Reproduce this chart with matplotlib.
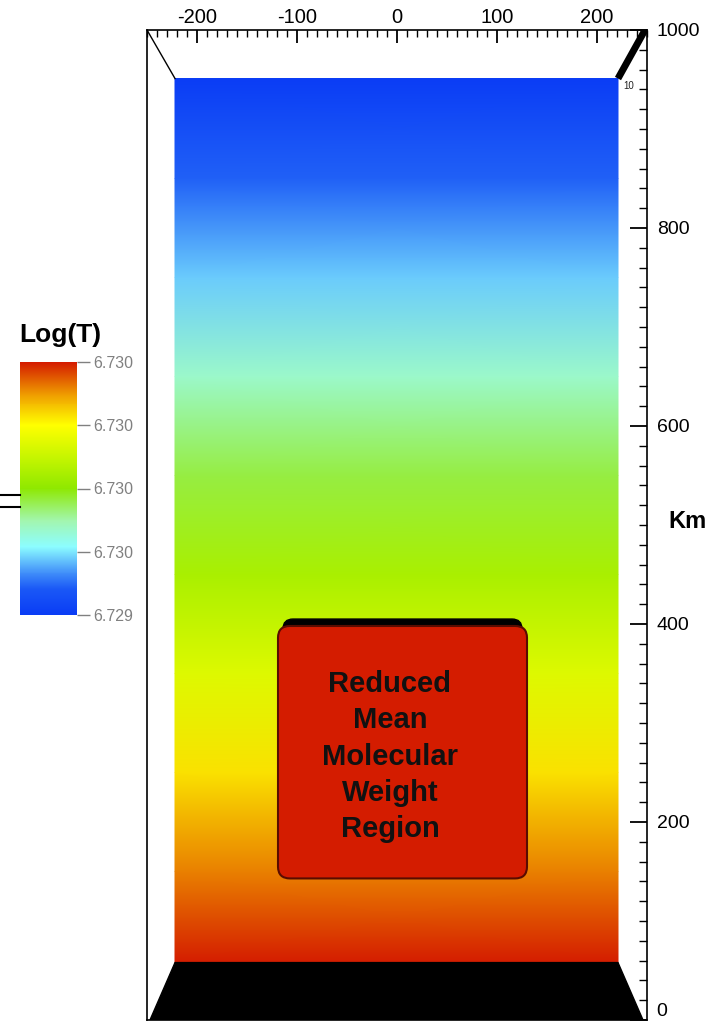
import numpy as np
import matplotlib
matplotlib.use("Agg")
import matplotlib.pyplot as plt
from matplotlib.colors import LinearSegmentedColormap, Normalize
from matplotlib.cm import ScalarMappable
from matplotlib.patches import FancyBboxPatch, Polygon
from matplotlib.ticker import MultipleLocator, FormatStrFormatter
from matplotlib.lines import Line2D

plt.rcParams['font.family'] = ['Liberation Sans', 'DejaVu Sans']
plt.rcParams['axes.unicode_minus'] = False

# temperature profile of the slab (height in km, Log(T))
heights = [58, 150, 250, 350, 450, 550, 650, 750, 850, 951]
log_t = [6.73020, 6.73012, 6.73003, 6.72994, 6.72985,
         6.72976, 6.72967, 6.72958, 6.72949, 6.72940]
slab_x = [-222, 221]
floor_top_x = [-222, 221]
floor_bottom_x = [-247, 246]

region_x = [-119, 130]
region_y = [143, 398]
region_label = ["Reduced", "Mean", "Molecular", "Weight", "Region"]

x_ticks = [-200, -100, 0, 100, 200]
km_ticks = [0, 200, 400, 600, 800, 1000]
cbar_ticks = [6.7294, 6.7296, 6.7298, 6.7300, 6.7302]

cmap = LinearSegmentedColormap.from_list("rainbow_pv", [
    (0.00, "#0a3cf5"), (0.10, "#1a58f6"), (0.18, "#4a9cfa"),
    (0.27, "#8cfdff"), (0.37, "#a2f6b0"), (0.50, "#8ee800"),
    (0.62, "#c4f500"), (0.75, "#ffff00"), (0.87, "#f0a000"),
    (1.00, "#d41c00")])
norm = Normalize(vmin=6.7294, vmax=6.7302)

fig = plt.figure(figsize=(7.26, 10.24), dpi=100)
ax = fig.add_axes([147 / 726, 4 / 1024, 500 / 726, 990 / 1024])
ax.set_xlim(-250, 250)
ax.set_ylim(0, 1000)

# coloured slab
xx, yy = np.meshgrid(slab_x, heights)
cc = np.repeat(np.array(log_t)[:, None], 2, axis=1)
ax.pcolormesh(xx, yy, cc, shading='gouraud', cmap=cmap, norm=norm, zorder=1)

# black floor
floor = Polygon([(floor_bottom_x[0], 0), (floor_bottom_x[1], 0),
                 (floor_top_x[1], heights[0]), (floor_top_x[0], heights[0])],
                closed=True, facecolor="black", edgecolor="black", zorder=2)
ax.add_patch(floor)

# perspective edges
ax.plot([-250, floor_top_x[0]], [1000, heights[-1]], color="black", lw=1, zorder=3)
ax.plot([248, floor_top_x[1]], [1000, heights[-1]], color="black", lw=5,
        solid_capstyle="butt", zorder=3)
ax.text(226, 940, "10", fontsize=7, color="#222222", zorder=3)

# reduced mean molecular weight region
w = region_x[1] - region_x[0]
h = region_y[1] - region_y[0]
shadow = FancyBboxPatch((region_x[0] + 5, region_y[0] + 7), w - 10, h,
                        boxstyle="round,pad=0,rounding_size=10",
                        facecolor="black", edgecolor="black", zorder=4)
ax.add_patch(shadow)
box = FancyBboxPatch((region_x[0], region_y[0]), w, h,
                     boxstyle="round,pad=0,rounding_size=12",
                     facecolor="#d41c00", edgecolor="#5a0c00", lw=1.5, zorder=5)
ax.add_patch(box)
ax.text(-7, 266, "\n".join(region_label), ha="center", va="center",
        fontsize=21, fontweight="bold", color="#111111",
        linespacing=1.38, zorder=6)

# axes styling
ax.xaxis.set_ticks_position("top")
ax.xaxis.set_label_position("top")
ax.set_xticks(x_ticks)
ax.xaxis.set_minor_locator(MultipleLocator(10))
ax.yaxis.set_ticks_position("right")
ax.set_yticks(km_ticks)
ax.yaxis.set_minor_locator(MultipleLocator(20))
ax.tick_params(axis="x", which="major", direction="in", length=9, width=1.3,
               labelsize=14.5, pad=2)
ax.tick_params(axis="x", which="minor", direction="in", length=5, width=1)
ax.tick_params(axis="y", which="major", direction="in", length=12, width=1.3,
               labelsize=14, pad=7)
ax.tick_params(axis="y", which="minor", direction="in", length=6, width=1)
for side in ["top", "right", "left", "bottom"]:
    ax.spines[side].set_linewidth(1.2)
ax.set_facecolor("white")
# keep the "0" label inside the picture
ax.get_yticklabels()[0].set_verticalalignment("bottom")

fig.text(688 / 726, 1 - 522 / 1024, "Km", ha="center", va="center",
         fontsize=17, fontweight="bold")

# colour bar
cax = fig.add_axes([20 / 726, 1 - 615 / 1024, 57 / 726, 253 / 1024])
cb = fig.colorbar(ScalarMappable(norm=norm, cmap=cmap), cax=cax, ticks=cbar_ticks)
cb.outline.set_visible(False)
cb.ax.yaxis.set_major_formatter(FormatStrFormatter("%.3f"))
cb.ax.tick_params(labelsize=11.5, colors="#808080", length=9, width=1, pad=3)
for lbl in cb.ax.get_yticklabels():
    lbl.set_color("#808080")
fig.text(60 / 726, 1 - 335 / 1024, "Log(T)", ha="center", va="center",
         fontsize=19, fontweight="bold")

# stray marks on the left edge
for yp in [495, 507]:
    fig.add_artist(Line2D([0, 20 / 726], [1 - yp / 1024] * 2, color="black", lw=1.5))

fig.savefig("out.png", dpi=100, facecolor="white")
